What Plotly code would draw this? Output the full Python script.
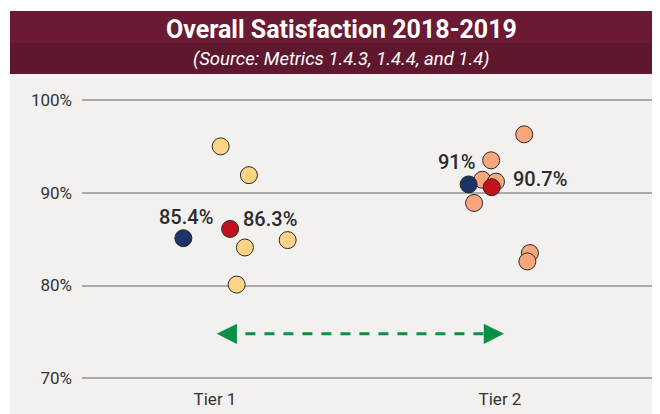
import plotly.graph_objects as go

# ---- data ----
tiers = ["Tier 1", "Tier 2"]
tier1_values = [95.0, 91.9, 84.1, 84.9, 80.1]
tier1_jitter = [0.020, 0.119, 0.105, 0.255, 0.076]
tier2_values = [96.3, 93.5, 91.4, 91.2, 88.9, 83.5, 82.6]
tier2_jitter = [0.085, -0.031, -0.062, -0.014, -0.091, 0.105, 0.096]
avg_2018 = [85.1, 90.9]          # navy markers
avg_2018_jitter = [-0.111, -0.110]
avg_2019 = [86.1, 90.6]          # red markers
avg_2019_jitter = [0.053, -0.029]
avg_2018_labels = ["85.4%", "91%"]
avg_2019_labels = ["86.3%", "90.7%"]
y_ticks = [70, 80, 90, 100]
y_tick_labels = ["70%", "80%", "90%", "100%"]
arrow_y = 74.8

W, H = 660, 414
OFF = 8  # page body margin
FONT = "Roboto"


def px_x(p):  # page pixel -> paper fraction
    return (p - OFF) / W


def px_y(p):
    return 1 - (p - OFF) / H


fig = go.Figure()

outline = dict(color="#2a2a2a", width=1)
fig.add_trace(go.Scatter(
    x=[0 + j for j in tier1_jitter], y=tier1_values, mode="markers",
    marker=dict(size=17, color="#FFD386", line=outline), hoverinfo="y"))
fig.add_trace(go.Scatter(
    x=[1 + j for j in tier2_jitter], y=tier2_values, mode="markers",
    marker=dict(size=17, color="#F9A67C", line=outline), hoverinfo="y"))
fig.add_trace(go.Scatter(
    x=[i + j for i, j in enumerate(avg_2018_jitter)], y=avg_2018, mode="markers",
    marker=dict(size=17, color="#1D3467", line=outline), hoverinfo="y"))
fig.add_trace(go.Scatter(
    x=[i + j for i, j in enumerate(avg_2019_jitter)], y=avg_2019, mode="markers",
    marker=dict(size=17, color="#C1131D", line=outline), hoverinfo="y"))

# dashed arrow line
fig.add_trace(go.Scatter(
    x=[0.04, 0.975], y=[arrow_y, arrow_y], mode="lines",
    line=dict(color="#0B8F44", width=3, dash="10px,9px"), hoverinfo="skip"))

annotations = []
for xt, dx in [(0.006, 16), (1.014, -16)]:
    annotations.append(dict(x=xt, y=arrow_y, ax=dx, ay=0, axref="pixel", ayref="pixel",
                            xref="x", yref="y", text="", showarrow=True,
                            arrowhead=2, arrowsize=1.35, arrowwidth=3, arrowcolor="#0B8F44"))

lab_font = dict(family=FONT, size=20, color="#2b2b2b", weight=500)
annotations.append(dict(x=0 + avg_2018_jitter[0], y=avg_2018[0], text=avg_2018_labels[0],
                        xref="x", yref="y", showarrow=False, xanchor="center", yanchor="middle",
                        xshift=3, yshift=21, font=lab_font))
annotations.append(dict(x=0 + avg_2019_jitter[0], y=avg_2019[0], text=avg_2019_labels[0],
                        xref="x", yref="y", showarrow=False, xanchor="left", yanchor="middle",
                        xshift=11, yshift=10, font=lab_font))
annotations.append(dict(x=1 + avg_2018_jitter[1], y=avg_2018[1], text=avg_2018_labels[1],
                        xref="x", yref="y", showarrow=False, xanchor="right", yanchor="middle",
                        xshift=8, yshift=22, font=lab_font))
annotations.append(dict(x=1 + avg_2019_jitter[1], y=avg_2019[1], text=avg_2019_labels[1],
                        xref="x", yref="y", showarrow=False, xanchor="left", yanchor="middle",
                        xshift=19, yshift=8, font=lab_font))

annotations.append(dict(x=px_x(341), y=px_y(29), xref="paper", yref="paper",
                        text="<b>Overall Satisfaction 2018-2019</b>", showarrow=False,
                        xanchor="center", yanchor="middle",
                        font=dict(family=FONT, size=25, color="white")))
annotations.append(dict(x=px_x(341), y=px_y(59), xref="paper", yref="paper",
                        text="<i>(Source: Metrics 1.4.3, 1.4.4, and 1.4)</i>", showarrow=False,
                        xanchor="center", yanchor="middle",
                        font=dict(family=FONT, size=18.5, color="white")))

shapes = [
    dict(type="rect", xref="paper", yref="paper", x0=px_x(10), x1=1.1, y0=-0.1, y1=px_y(74),
         fillcolor="#F2F1EF", line=dict(width=0), layer="below"),
    dict(type="rect", xref="paper", yref="paper", x0=px_x(10), x1=1.1, y0=px_y(43), y1=px_y(11),
         fillcolor="#6A1A33", line=dict(width=0), layer="below"),
    dict(type="rect", xref="paper", yref="paper", x0=px_x(10), x1=1.1, y0=px_y(74), y1=px_y(43),
         fillcolor="#5F172E", line=dict(width=0), layer="below"),
]

px_per_unit = 285.0
x0_px, x1_px, c0_px = 82, 657, 215
y100_px, y70_px = 100.0, 378.3
pad = 0.15
ppu_y = (y70_px - y100_px) / 30.0
fig.update_layout(
    width=W, height=H, margin=dict(l=0, r=0, t=0, b=0),
    paper_bgcolor="white", plot_bgcolor="rgba(0,0,0,0)",
    showlegend=False, annotations=annotations, shapes=shapes,
    font=dict(family=FONT, color="#333333"),
    xaxis=dict(domain=[px_x(x0_px), px_x(x1_px)],
               range=[(x0_px - c0_px) / px_per_unit, (x1_px - c0_px) / px_per_unit],
               tickvals=[0, 1], ticktext=tiers, showgrid=False, zeroline=False,
               showline=False, ticks="", ticklabelstandoff=7, automargin=False,
               tickfont=dict(family=FONT, size=17, color="#333333")),
    yaxis=dict(domain=[px_y(y70_px + pad * ppu_y), px_y(y100_px - pad * ppu_y)],
               range=[70 - pad, 100 + pad],
               tickvals=y_ticks, ticktext=y_tick_labels, showgrid=True, gridcolor="#A9A9A9",
               gridwidth=1.5, zeroline=False, showline=False, ticks="",
               ticklabelstandoff=9, automargin=False,
               tickfont=dict(family=FONT, size=17, color="#333333")),
)
fig.update_traces(cliponaxis=False)

fig.write_html("out.html")
